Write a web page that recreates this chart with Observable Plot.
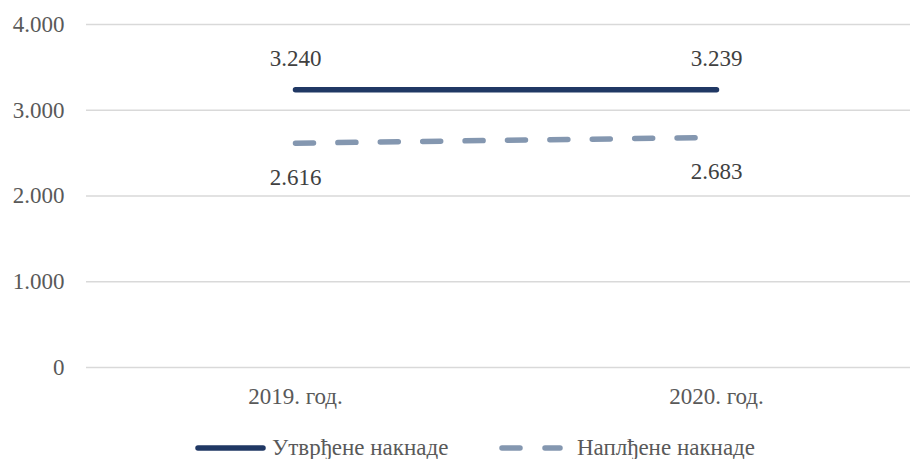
<!DOCTYPE html>
<html>
<head>
<meta charset="utf-8">
<script src="https://cdn.jsdelivr.net/npm/d3@7"></script>
<script src="https://cdn.jsdelivr.net/npm/@observablehq/plot@0.6"></script>
<style>
  html, body { margin: 0; padding: 0; background: #fff; overflow: hidden; }
  #chart svg { display: block; }
  #chart svg, #chart svg text { font-family: "Liberation Serif", "Times New Roman", Tinos, "DejaVu Serif", serif !important; }
  .legend { display: flex; align-items: center; height: 30px; margin-top: 8px; font-family: "Liberation Serif", "Times New Roman", Tinos, "DejaVu Serif", serif; font-size: 23px; color: #595959; }
  .legend .item { display: flex; align-items: center; position: absolute; }
  .legend svg { display: block; margin-right: 6px; }
</style>
</head>
<body>
<div id="chart"></div>
<div class="legend" id="legend"></div>
<script>
const years = ["2019. год.", "2020. год."];
const seriesNames = ["Утврђене накнаде", "Наплђене накнаде"];
const utvrdjene = [3240, 3239];
const naplacene = [2616, 2683];
const yTicks = [0, 1000, 2000, 3000, 4000];
const colors = ["#203864", "#8497b0"];

const data = [];
years.forEach((y, i) => {
  data.push({year: y, series: seriesNames[0], value: utvrdjene[i]});
  data.push({year: y, series: seriesNames[1], value: naplacene[i]});
});

const fmt = v => d3.format(",")(v).replace(/,/g, ".");
const font = '"Liberation Serif", "Times New Roman", Tinos, "DejaVu Serif", serif';

const chart = Plot.plot({
  width: 910,
  height: 425,
  marginTop: 24,
  marginBottom: 58,
  marginLeft: 86,
  marginRight: 0,
  style: {fontFamily: font, fontSize: "23px", color: "#595959", background: "#fff"},
  x: {type: "point", domain: years, range: [295, 716], padding: 0, label: null},
  y: {domain: [0, 4000], label: null},
  marks: [
    Plot.ruleY(yTicks, {stroke: "#d9d9d9", strokeWidth: 1.5}),
    Plot.axisY(yTicks, {tickSize: 0, tickPadding: 22, tickFormat: fmt, fontSize: 23, fill: "#595959", label: null}),
    Plot.axisX({tickSize: 0, tickPadding: 20, fontSize: 23, fill: "#595959", label: null}),
    Plot.line(data.filter(d => d.series === seriesNames[0]), {x: "year", y: "value", stroke: colors[0], strokeWidth: 5.5, strokeLinecap: "round"}),
    Plot.line(data.filter(d => d.series === seriesNames[1]), {x: "year", y: "value", stroke: colors[1], strokeWidth: 5.5, strokeLinecap: "round", strokeDasharray: "18,24.4"}),
    Plot.text(data.filter(d => d.series === seriesNames[0]), {x: "year", y: "value", text: d => fmt(d.value), dy: -31, fontSize: 23, fill: "#404040"}),
    Plot.text(data.filter(d => d.series === seriesNames[1]), {x: "year", y: "value", text: d => fmt(d.value), dy: 34, fontSize: 23, fill: "#404040"})
  ]
});
document.getElementById("chart").appendChild(chart);

const legend = document.getElementById("legend");
legend.style.position = "relative";
const lefts = [193, 497];
seriesNames.forEach((name, i) => {
  const item = document.createElement("div");
  item.className = "item";
  item.style.left = lefts[i] + "px";
  const line = i === 1
    ? `<line x1="5" y1="6" x2="63" y2="6" stroke="${colors[i]}" stroke-width="5.5" stroke-linecap="round" stroke-dasharray="18,25"/>`
    : `<line x1="5" y1="6" x2="70" y2="6" stroke="${colors[i]}" stroke-width="5.5" stroke-linecap="round"/>`;
  const w = i === 1 ? 74 : 73;
  item.innerHTML = `<svg width="${w}" height="12">${line}</svg><span>${name}</span>`;
  legend.appendChild(item);
});
</script>
</body>
</html>
